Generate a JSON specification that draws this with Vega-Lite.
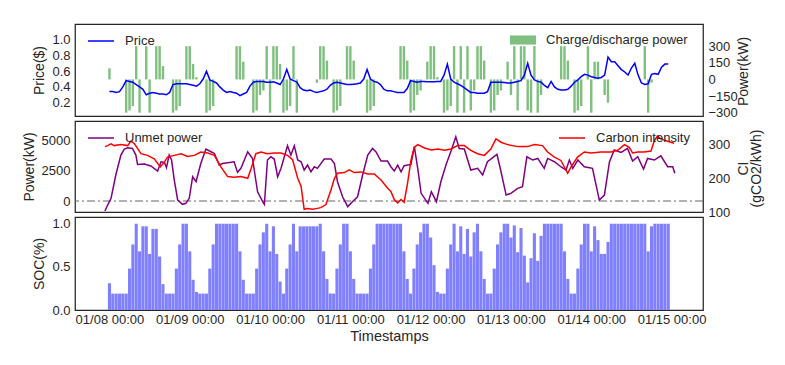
{
  "$schema": "https://vega.github.io/schema/vega-lite/v6.json",
  "background": "white",
  "padding": {"left": 21, "top": 23, "right": 10, "bottom": 5},
  "config": {
    "font": "Liberation Sans",
    "view": {"stroke": "#262626", "strokeWidth": 1.25},
    "axis": {"labelFont": "Liberation Sans", "titleFont": "Liberation Sans", "labelFontSize": 13, "titleFontSize": 14, "labelColor": "#262626", "titleColor": "#262626", "titleFontWeight": "normal", "ticks": false, "domain": false, "grid": false, "labelPadding": 5, "titlePadding": 5, "labelFlush": false, "labelOverlap": false},
    "legend": {"labelFont": "Liberation Sans", "labelFontSize": 13, "labelColor": "#262626", "padding": 0}
  },
  "datasets": {
    "hourly": [
      {"h":0,"price":0.34,"charge_kw":100,"soc":0.31},{"h":1,"price":0.34,"charge_kw":0,"soc":0.19},{"h":2,"price":0.33,"charge_kw":0,"soc":0.19},{"h":3,"price":0.34,"charge_kw":0,"soc":0.19},{"h":4,"price":0.40,"charge_kw":0,"soc":0.19},{"h":5,"price":0.48,"charge_kw":-300,"soc":0.19},{"h":6,"price":0.47,"charge_kw":-280,"soc":0.48},{"h":7,"price":0.46,"charge_kw":-240,"soc":0.76},{"h":8,"price":0.43,"charge_kw":300,"soc":1.0},{"h":9,"price":0.40,"charge_kw":-300,"soc":0.68},
      {"h":10,"price":0.37,"charge_kw":0,"soc":0.97},{"h":11,"price":0.30,"charge_kw":300,"soc":0.97},{"h":12,"price":0.32,"charge_kw":-300,"soc":0.65},{"h":13,"price":0.33,"charge_kw":0,"soc":0.94},{"h":14,"price":0.32,"charge_kw":300,"soc":0.94},{"h":15,"price":0.31,"charge_kw":300,"soc":0.62},{"h":16,"price":0.31,"charge_kw":120,"soc":0.30},{"h":17,"price":0.30,"charge_kw":0,"soc":0.19},{"h":18,"price":0.33,"charge_kw":0,"soc":0.19},{"h":19,"price":0.43,"charge_kw":-300,"soc":0.19},
      {"h":20,"price":0.44,"charge_kw":-280,"soc":0.48},{"h":21,"price":0.44,"charge_kw":-240,"soc":0.76},{"h":22,"price":0.44,"charge_kw":0,"soc":1.0},{"h":23,"price":0.44,"charge_kw":300,"soc":1.0},{"h":24,"price":0.43,"charge_kw":300,"soc":0.68},{"h":25,"price":0.42,"charge_kw":140,"soc":0.35},{"h":26,"price":0.41,"charge_kw":20,"soc":0.21},{"h":27,"price":0.44,"charge_kw":0,"soc":0.19},{"h":28,"price":0.50,"charge_kw":0,"soc":0.19},{"h":29,"price":0.60,"charge_kw":-300,"soc":0.19},
      {"h":30,"price":0.49,"charge_kw":-280,"soc":0.48},{"h":31,"price":0.47,"charge_kw":-240,"soc":0.76},{"h":32,"price":0.45,"charge_kw":0,"soc":1.0},{"h":33,"price":0.40,"charge_kw":0,"soc":1.0},{"h":34,"price":0.36,"charge_kw":0,"soc":1.0},{"h":35,"price":0.33,"charge_kw":0,"soc":1.0},{"h":36,"price":0.34,"charge_kw":0,"soc":1.0},{"h":37,"price":0.33,"charge_kw":0,"soc":1.0},{"h":38,"price":0.32,"charge_kw":300,"soc":1.0},{"h":39,"price":0.29,"charge_kw":300,"soc":0.68},
      {"h":40,"price":0.31,"charge_kw":160,"soc":0.35},{"h":41,"price":0.33,"charge_kw":0,"soc":0.19},{"h":42,"price":0.41,"charge_kw":0,"soc":0.19},{"h":43,"price":0.46,"charge_kw":-300,"soc":0.19},{"h":44,"price":0.47,"charge_kw":-280,"soc":0.48},{"h":45,"price":0.47,"charge_kw":-140,"soc":0.76},{"h":46,"price":0.47,"charge_kw":-100,"soc":0.90},{"h":47,"price":0.46,"charge_kw":300,"soc":1.0},{"h":48,"price":0.46,"charge_kw":-300,"soc":0.68},{"h":49,"price":0.465,"charge_kw":300,"soc":0.97},
      {"h":50,"price":0.45,"charge_kw":300,"soc":0.65},{"h":51,"price":0.43,"charge_kw":140,"soc":0.33},{"h":52,"price":0.50,"charge_kw":-300,"soc":0.19},{"h":53,"price":0.62,"charge_kw":-280,"soc":0.48},{"h":54,"price":0.50,"charge_kw":-240,"soc":0.76},{"h":55,"price":0.48,"charge_kw":300,"soc":1.0},{"h":56,"price":0.46,"charge_kw":-300,"soc":0.68},{"h":57,"price":0.39,"charge_kw":0,"soc":0.97},{"h":58,"price":0.36,"charge_kw":0,"soc":0.97},{"h":59,"price":0.35,"charge_kw":0,"soc":0.97},
      {"h":60,"price":0.36,"charge_kw":0,"soc":0.97},{"h":61,"price":0.34,"charge_kw":0,"soc":0.97},{"h":62,"price":0.33,"charge_kw":-30,"soc":0.97},{"h":63,"price":0.34,"charge_kw":300,"soc":1.0},{"h":64,"price":0.35,"charge_kw":300,"soc":0.68},{"h":65,"price":0.37,"charge_kw":170,"soc":0.36},{"h":66,"price":0.42,"charge_kw":0,"soc":0.19},{"h":67,"price":0.45,"charge_kw":-300,"soc":0.19},{"h":68,"price":0.46,"charge_kw":-280,"soc":0.48},{"h":69,"price":0.45,"charge_kw":-240,"soc":0.76},
      {"h":70,"price":0.44,"charge_kw":0,"soc":1.0},{"h":71,"price":0.43,"charge_kw":300,"soc":1.0},{"h":72,"price":0.43,"charge_kw":300,"soc":0.68},{"h":73,"price":0.435,"charge_kw":170,"soc":0.36},{"h":74,"price":0.44,"charge_kw":0,"soc":0.19},{"h":75,"price":0.45,"charge_kw":0,"soc":0.19},{"h":76,"price":0.50,"charge_kw":0,"soc":0.19},{"h":77,"price":0.62,"charge_kw":-300,"soc":0.19},{"h":78,"price":0.50,"charge_kw":-280,"soc":0.48},{"h":79,"price":0.47,"charge_kw":-240,"soc":0.76},
      {"h":80,"price":0.46,"charge_kw":0,"soc":1.0},{"h":81,"price":0.43,"charge_kw":0,"soc":1.0},{"h":82,"price":0.37,"charge_kw":0,"soc":1.0},{"h":83,"price":0.35,"charge_kw":0,"soc":1.0},{"h":84,"price":0.35,"charge_kw":0,"soc":1.0},{"h":85,"price":0.34,"charge_kw":0,"soc":1.0},{"h":86,"price":0.33,"charge_kw":0,"soc":1.0},{"h":87,"price":0.33,"charge_kw":300,"soc":1.0},{"h":88,"price":0.33,"charge_kw":300,"soc":0.68},{"h":89,"price":0.38,"charge_kw":170,"soc":0.36},
      {"h":90,"price":0.48,"charge_kw":-300,"soc":0.19},{"h":91,"price":0.47,"charge_kw":-280,"soc":0.48},{"h":92,"price":0.46,"charge_kw":-140,"soc":0.76},{"h":93,"price":0.47,"charge_kw":-100,"soc":0.90},{"h":94,"price":0.47,"charge_kw":0,"soc":1.0},{"h":95,"price":0.465,"charge_kw":160,"soc":1.0},{"h":96,"price":0.465,"charge_kw":300,"soc":0.84},{"h":97,"price":0.465,"charge_kw":300,"soc":0.52},{"h":98,"price":0.47,"charge_kw":20,"soc":0.21},{"h":99,"price":0.47,"charge_kw":0,"soc":0.19},
      {"h":100,"price":0.55,"charge_kw":-300,"soc":0.19},{"h":101,"price":0.69,"charge_kw":-280,"soc":0.48},{"h":102,"price":0.50,"charge_kw":-240,"soc":0.76},{"h":103,"price":0.46,"charge_kw":300,"soc":1.0},{"h":104,"price":0.44,"charge_kw":-300,"soc":0.68},{"h":105,"price":0.42,"charge_kw":300,"soc":0.97},{"h":106,"price":0.39,"charge_kw":-300,"soc":0.65},{"h":107,"price":0.36,"charge_kw":300,"soc":0.94},{"h":108,"price":0.33,"charge_kw":-280,"soc":0.62},{"h":109,"price":0.33,"charge_kw":-100,"soc":0.90},
      {"h":110,"price":0.32,"charge_kw":300,"soc":1.0},{"h":111,"price":0.32,"charge_kw":300,"soc":0.68},{"h":112,"price":0.32,"charge_kw":170,"soc":0.36},{"h":113,"price":0.34,"charge_kw":0,"soc":0.19},{"h":114,"price":0.46,"charge_kw":-300,"soc":0.19},{"h":115,"price":0.46,"charge_kw":-280,"soc":0.48},{"h":116,"price":0.46,"charge_kw":-140,"soc":0.76},{"h":117,"price":0.46,"charge_kw":-100,"soc":0.90},{"h":118,"price":0.455,"charge_kw":0,"soc":1.0},{"h":119,"price":0.45,"charge_kw":160,"soc":1.0},
      {"h":120,"price":0.45,"charge_kw":-140,"soc":0.84},{"h":121,"price":0.46,"charge_kw":300,"soc":0.98},{"h":122,"price":0.47,"charge_kw":-280,"soc":0.67},{"h":123,"price":0.48,"charge_kw":300,"soc":0.95},{"h":124,"price":0.55,"charge_kw":300,"soc":0.63},{"h":125,"price":0.70,"charge_kw":-280,"soc":0.32},{"h":126,"price":0.55,"charge_kw":-300,"soc":0.60},{"h":127,"price":0.49,"charge_kw":300,"soc":0.89},{"h":128,"price":0.47,"charge_kw":-300,"soc":0.57},{"h":129,"price":0.46,"charge_kw":-140,"soc":0.86},
      {"h":130,"price":0.42,"charge_kw":0,"soc":1.0},{"h":131,"price":0.39,"charge_kw":0,"soc":1.0},{"h":132,"price":0.47,"charge_kw":0,"soc":1.0},{"h":133,"price":0.40,"charge_kw":0,"soc":1.0},{"h":134,"price":0.37,"charge_kw":0,"soc":1.0},{"h":135,"price":0.36,"charge_kw":300,"soc":1.0},{"h":136,"price":0.36,"charge_kw":300,"soc":0.68},{"h":137,"price":0.37,"charge_kw":170,"soc":0.36},{"h":138,"price":0.41,"charge_kw":0,"soc":0.19},{"h":139,"price":0.46,"charge_kw":-300,"soc":0.19},
      {"h":140,"price":0.49,"charge_kw":-280,"soc":0.48},{"h":141,"price":0.53,"charge_kw":-240,"soc":0.76},{"h":142,"price":0.56,"charge_kw":0,"soc":1.0},{"h":143,"price":0.55,"charge_kw":300,"soc":1.0},{"h":144,"price":0.53,"charge_kw":-300,"soc":0.68},{"h":145,"price":0.52,"charge_kw":160,"soc":0.97},{"h":146,"price":0.51,"charge_kw":160,"soc":0.81},{"h":147,"price":0.52,"charge_kw":0,"soc":0.65},{"h":148,"price":0.55,"charge_kw":-140,"soc":0.65},{"h":149,"price":0.78,"charge_kw":-210,"soc":0.79},
      {"h":150,"price":0.72,"charge_kw":0,"soc":1.0},{"h":151,"price":0.72,"charge_kw":0,"soc":1.0},{"h":152,"price":0.67,"charge_kw":0,"soc":1.0},{"h":153,"price":0.62,"charge_kw":0,"soc":1.0},{"h":154,"price":0.59,"charge_kw":0,"soc":1.0},{"h":155,"price":0.55,"charge_kw":0,"soc":1.0},{"h":156,"price":0.64,"charge_kw":0,"soc":1.0},{"h":157,"price":0.70,"charge_kw":0,"soc":1.0},{"h":158,"price":0.55,"charge_kw":0,"soc":1.0},{"h":159,"price":0.45,"charge_kw":0,"soc":1.0},
      {"h":160,"price":0.43,"charge_kw":300,"soc":1.0},{"h":161,"price":0.44,"charge_kw":-300,"soc":0.68},{"h":162,"price":0.56,"charge_kw":-30,"soc":0.97},{"h":163,"price":0.57,"charge_kw":0,"soc":1.0},{"h":164,"price":0.56,"charge_kw":0,"soc":1.0},{"h":165,"price":0.65,"charge_kw":0,"soc":1.0},{"h":166,"price":0.69,"charge_kw":0,"soc":1.0},{"h":167,"price":0.69,"charge_kw":0,"soc":1.0}
    ],
    "unmet": [
      {"h":0,"kw":-820},{"h":0.8,"kw":-330},{"h":1.8,"kw":220},{"h":3.2,"kw":2130},{"h":4.7,"kw":3770},{"h":5.7,"kw":4260},{"h":6.7,"kw":4370},{"h":8.1,"kw":4310},{"h":9.1,"kw":3770},{"h":9.6,"kw":3000},{"h":11.6,"kw":3030},{"h":13.5,"kw":2870},{"h":15.5,"kw":2460},{"h":16.5,"kw":3220},{"h":17.5,"kw":3170},{"h":18.1,"kw":2730},{"h":18.9,"kw":3770},{"h":19.6,"kw":3360},{"h":20.4,"kw":1720},{"h":21.4,"kw":80},{"h":22.8,"kw":-270},{"h":23.8,"kw":-190},{"h":24.8,"kw":220},{"h":25.8,"kw":1990},{"h":26.8,"kw":1580},{"h":28.2,"kw":3080},{"h":29.7,"kw":4260},{"h":31.2,"kw":4040},{"h":32.2,"kw":3900},{"h":33.6,"kw":2950},{"h":34.6,"kw":3080},{"h":37.1,"kw":3170},{"h":38,"kw":3220},{"h":39,"kw":2350},{"h":40,"kw":2680},{"h":42,"kw":4040},{"h":43.4,"kw":3490},{"h":44.9,"kw":760},{"h":46.4,"kw":-50},{"h":46.9,"kw":-270},{"h":47.8,"kw":3360},{"h":48.8,"kw":3630},{"h":49.8,"kw":3440},{"h":50.8,"kw":1990},{"h":51.8,"kw":2680},{"h":53.7,"kw":4530},{"h":54.7,"kw":3770},{"h":55.7,"kw":4530},{"h":56.7,"kw":3360},{"h":57.7,"kw":3220},{"h":58.6,"kw":2540},{"h":59.6,"kw":2950},{"h":60.6,"kw":2400},{"h":61.6,"kw":2810},{"h":62.5,"kw":2680},{"h":64.5,"kw":3440},{"h":66.5,"kw":3440},{"h":67.5,"kw":3080},{"h":68.4,"kw":1580},{"h":69.9,"kw":350},{"h":71.4,"kw":-460},{"h":72.8,"kw":-55},{"h":74.3,"kw":350},{"h":75.8,"kw":2130},{"h":77.3,"kw":3770},{"h":78.7,"kw":4310},{"h":79.7,"kw":4040},{"h":81.2,"kw":3280},{"h":83.1,"kw":3280},{"h":84.1,"kw":2810},{"h":85.1,"kw":2460},{"h":86.1,"kw":2950},{"h":87.1,"kw":2400},{"h":88,"kw":2890},{"h":90,"kw":3000},{"h":91,"kw":4450},{"h":92,"kw":2680},{"h":93,"kw":630},{"h":95,"kw":-190},{"h":96,"kw":760},{"h":97.5,"kw":-55},{"h":98.8,"kw":1580},{"h":100.3,"kw":2950},{"h":101.8,"kw":4100},{"h":103.2,"kw":5270},{"h":104.2,"kw":4310},{"h":105.7,"kw":4260},{"h":107.6,"kw":2540},{"h":109.6,"kw":2680},{"h":111.1,"kw":2130},{"h":112.5,"kw":3220},{"h":115.3,"kw":3820},{"h":116.5,"kw":2400},{"h":118,"kw":490},{"h":119.4,"kw":630},{"h":121.4,"kw":1040},{"h":122.8,"kw":1170},{"h":124.1,"kw":3630},{"h":125.8,"kw":3360},{"h":127.3,"kw":3490},{"h":129.2,"kw":2680},{"h":130.2,"kw":3490},{"h":132.2,"kw":3220},{"h":134.1,"kw":2810},{"h":135.6,"kw":2540},{"h":136.6,"kw":3360},{"h":137.6,"kw":2680},{"h":139.1,"kw":3360},{"h":141,"kw":2810},{"h":143.4,"kw":2680},{"h":145.4,"kw":80},{"h":146.9,"kw":490},{"h":148.4,"kw":3220},{"h":149.8,"kw":4180},{"h":151.8,"kw":3990},{"h":153.7,"kw":4310},{"h":155.2,"kw":3280},{"h":156.7,"kw":3630},{"h":158.4,"kw":2620},{"h":159.6,"kw":3490},{"h":161.6,"kw":3360},{"h":163.5,"kw":3710},{"h":165.5,"kw":2810},{"h":167,"kw":2810},{"h":167.6,"kw":2270}
    ],
    "carbon": [
      {"h":0,"ci":294},{"h":0.8,"ci":297},{"h":1.8,"ci":302},{"h":2.7,"ci":297},{"h":4.7,"ci":300},{"h":6.7,"ci":297},{"h":7.6,"ci":310},{"h":8.6,"ci":304},{"h":10.6,"ci":273},{"h":12.5,"ci":268},{"h":14.5,"ci":258},{"h":16.3,"ci":234},{"h":17.5,"ci":248},{"h":18.4,"ci":263},{"h":20.4,"ci":268},{"h":22.4,"ci":273},{"h":24.3,"ci":265},{"h":26.3,"ci":268},{"h":28.2,"ci":278},{"h":30.2,"ci":275},{"h":32.2,"ci":268},{"h":34.1,"ci":234},{"h":36.1,"ci":205},{"h":38,"ci":203},{"h":40,"ci":205},{"h":42,"ci":200},{"h":43,"ci":229},{"h":44.4,"ci":273},{"h":45.9,"ci":278},{"h":47.8,"ci":273},{"h":49.8,"ci":275},{"h":51.8,"ci":275},{"h":53.7,"ci":268},{"h":55.2,"ci":255},{"h":56.7,"ci":200},{"h":57.7,"ci":176},{"h":58.6,"ci":108},{"h":59.6,"ci":110},{"h":61.1,"ci":108},{"h":62.1,"ci":110},{"h":63.5,"ci":113},{"h":65,"ci":122},{"h":66.5,"ci":166},{"h":67.5,"ci":200},{"h":68.4,"ci":215},{"h":70.4,"ci":217},{"h":71.9,"ci":225},{"h":73.3,"ci":217},{"h":75.3,"ci":219},{"h":77.3,"ci":213},{"h":79.2,"ci":213},{"h":81.2,"ci":195},{"h":83.1,"ci":171},{"h":84.1,"ci":161},{"h":85.1,"ci":137},{"h":86.1,"ci":127},{"h":87.1,"ci":137},{"h":88,"ci":129},{"h":89,"ci":185},{"h":90,"ci":253},{"h":91,"ci":292},{"h":92,"ci":300},{"h":94,"ci":290},{"h":96,"ci":284},{"h":97.9,"ci":287},{"h":99.9,"ci":283},{"h":101.8,"ci":287},{"h":103.7,"ci":297},{"h":105.7,"ci":297},{"h":107.6,"ci":283},{"h":109.6,"ci":273},{"h":111.6,"ci":268},{"h":113.5,"ci":287},{"h":115,"ci":317},{"h":116.5,"ci":307},{"h":118.4,"ci":300},{"h":121.4,"ci":294},{"h":124.3,"ci":294},{"h":126.3,"ci":300},{"h":128.7,"ci":297},{"h":130.2,"ci":278},{"h":132.2,"ci":263},{"h":134.1,"ci":253},{"h":136.1,"ci":215},{"h":137.1,"ci":234},{"h":139,"ci":263},{"h":141,"ci":278},{"h":143,"ci":275},{"h":145.9,"ci":278},{"h":148.9,"ci":278},{"h":150.8,"ci":283},{"h":152.8,"ci":300},{"h":154.2,"ci":292},{"h":155.2,"ci":275},{"h":156.7,"ci":278},{"h":158.6,"ci":278},{"h":160.6,"ci":281},{"h":161.6,"ci":312},{"h":162.5,"ci":326},{"h":163.5,"ci":317},{"h":165.5,"ci":310},{"h":167.4,"ci":304}
    ]
  },
  "spacing": 5,
  "bounds": "flush",
  "resolve": {
    "scale": {"color": "independent", "stroke": "independent", "x": "independent", "y": "independent"},
    "legend": {"color": "independent", "stroke": "independent"}
  },
  "vconcat": [
    {
      "width": 628,
      "height": 92,
      "data": {"name": "hourly"},
      "layer": [
        {
          "mark": {"type": "bar", "width": 2.4},
          "encoding": {
            "x": {"field": "h", "type": "quantitative", "scale": {"domain": [-8.8, 175.9], "nice": false, "zero": false}, "axis": null},
            "y": {"field": "charge_kw", "type": "quantitative", "scale": {"domain": [-330, 500], "nice": false}, "axis": {"orient": "right", "title": "Power(kW)", "values": [-300, -150, 0, 150, 300], "titleAngle": 270, "titleBaseline": "top", "titleAlign": "center", "titleX": 33, "titleY": 47}},
            "color": {"datum": "Charge/discharge power", "type": "nominal", "scale": {"range": ["#7fbf7f"]}, "legend": {"title": null, "orient": "none", "legendX": 435, "legendY": 3, "symbolType": "M-1,-0.35H1V0.35H-1Z", "symbolSize": 676, "symbolStrokeWidth": 0, "labelOffset": 10}}
          }
        },
        {
          "mark": {"type": "line", "strokeWidth": 1.5},
          "encoding": {
            "x": {"field": "h", "type": "quantitative", "scale": {"domain": [-8.8, 175.9], "nice": false, "zero": false}, "axis": null},
            "y": {"field": "price", "type": "quantitative", "scale": {"domain": [0.03, 1.2], "nice": false, "zero": false}, "axis": {"orient": "left", "title": "Price($)", "values": [0.2, 0.4, 0.6, 0.8, 1.0], "format": ".1f"}},
            "stroke": {"datum": "Price", "type": "nominal", "scale": {"range": ["#0000ff"]}, "legend": {"title": null, "orient": "none", "legendX": 12, "legendY": 3, "symbolType": "stroke", "symbolSize": 676, "symbolStrokeWidth": 1.5, "labelOffset": 10}}
          }
        }
      ],
      "resolve": {"scale": {"y": "independent"}}
    },
    {
      "width": 628,
      "height": 91,
      "layer": [
        {
          "data": {"values": [{}]},
          "mark": {"type": "rule", "color": "#666666", "strokeWidth": 1.2, "strokeDash": [8, 3, 2, 3]},
          "encoding": {
            "y": {"datum": 0, "type": "quantitative", "scale": {"domain": [-900, 6560], "nice": false}, "axis": null}
          }
        },
        {
          "data": {"name": "unmet"},
          "mark": {"type": "line", "strokeWidth": 1.5},
          "encoding": {
            "x": {"field": "h", "type": "quantitative", "scale": {"domain": [-8.8, 175.9], "nice": false, "zero": false}, "axis": null},
            "y": {"field": "kw", "type": "quantitative", "scale": {"domain": [-900, 6560], "nice": false}, "axis": {"orient": "left", "title": "Power(kW)", "values": [0, 2500, 5000], "format": "d"}},
            "stroke": {"datum": "Unmet power", "type": "nominal", "scale": {"range": ["#800080"]}, "legend": {"title": null, "orient": "none", "legendX": 12, "legendY": 3, "symbolType": "stroke", "symbolSize": 676, "symbolStrokeWidth": 1.5, "labelOffset": 10}}
          }
        },
        {
          "data": {"name": "carbon"},
          "mark": {"type": "line", "strokeWidth": 1.5},
          "encoding": {
            "x": {"field": "h", "type": "quantitative", "scale": {"domain": [-8.8, 175.9], "nice": false, "zero": false}, "axis": null},
            "y": {"field": "ci", "type": "quantitative", "scale": {"domain": [100, 370], "nice": false, "zero": false}, "axis": {"orient": "right", "title": ["CI", "(gCO2/kWh)"], "values": [100, 200, 300], "titleAngle": 270, "titleBaseline": "top", "titleAlign": "center", "titleX": 33, "titleY": 47, "titleLineHeight": 13}},
            "color": {"datum": "Carbon intensity", "type": "nominal", "scale": {"range": ["#ff0000"]}, "legend": {"title": null, "orient": "none", "legendX": 483, "legendY": 3, "symbolType": "stroke", "symbolSize": 676, "symbolStrokeWidth": 1.5, "labelOffset": 10}}
          }
        }
      ],
      "resolve": {"scale": {"y": "independent"}}
    },
    {
      "width": 628,
      "height": 93,
      "data": {"name": "hourly"},
      "mark": {"type": "bar", "width": 3.1, "color": "#8080ff"},
      "encoding": {
        "x": {"field": "h", "type": "quantitative", "scale": {"domain": [-8.8, 175.9], "nice": false, "zero": false}, "axis": {"title": "Timestamps", "titleFontSize": 14.5, "values": [0, 24, 48, 72, 96, 120, 144, 168], "labelExpr": "'01/' + (datum.value < 48 ? '0' : '') + (8 + datum.value / 24) + ' 00:00'", "labelPadding": 3, "titlePadding": 3}},
        "y": {"field": "soc", "type": "quantitative", "scale": {"domain": [0, 1.078], "nice": false}, "axis": {"title": "SOC(%)", "values": [0, 0.5, 1.0], "format": ".1f"}}
      }
    }
  ]
}
